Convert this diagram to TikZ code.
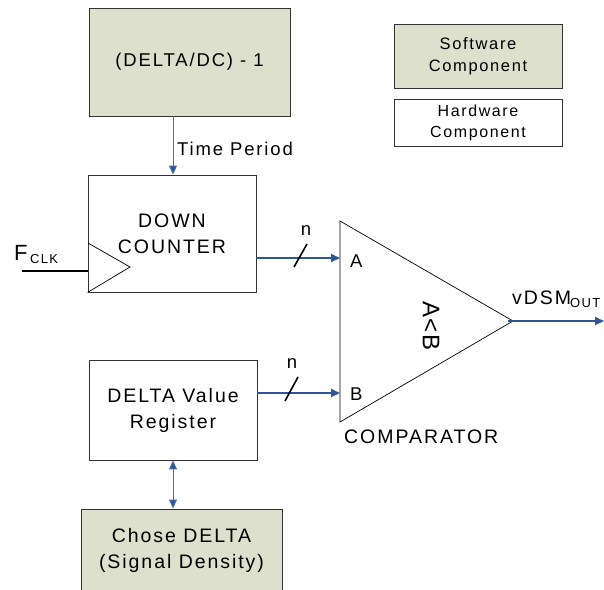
\documentclass[tikz,border=0pt]{standalone}
\usepackage{fontspec}
\setmainfont{Liberation Sans}[LetterSpace=10.0]
\usetikzlibrary{arrows.meta}
\definecolor{swfill}{HTML}{DDE0CC}
\definecolor{sigblue}{HTML}{2F5597}
\definecolor{thinblue}{HTML}{4A6FA8}
\definecolor{edge}{HTML}{333333}
\tikzset{
  swbox/.style={draw=edge, line width=0.8pt, fill=swfill, align=center, inner sep=0pt,
    font=\fontsize{19.5}{26}\selectfont},
  hwbox/.style={draw=edge, line width=0.8pt, fill=white, align=center, inner sep=0pt,
    font=\fontsize{19.5}{26}\selectfont},
  legsw/.style={swbox, font=\fontsize{16.5}{22}\selectfont},
  leghw/.style={hwbox, font=\fontsize{16}{21}\selectfont},
  lbl/.style={inner sep=0pt, font=\fontsize{18.5}{22}\selectfont},
  biglbl/.style={inner sep=0pt, font=\fontsize{19.5}{22}\selectfont},
  bus/.style={draw=sigblue, line width=2pt, -{Triangle[length=9pt,width=8pt]}},
  thinarrow/.style={draw=thinblue, line width=0.9pt, -{Triangle[length=9pt,width=8pt,fill=sigblue]}},
  dblarrow/.style={draw=thinblue, line width=0.9pt, {Triangle[length=9pt,width=8pt,fill=sigblue]}-{Triangle[length=9pt,width=8pt,fill=sigblue]}},
  slashmark/.style={draw=black, line width=1.6pt},
}
\begin{document}
\begin{tikzpicture}[x=1pt,y=-1pt]
\path[use as bounding box] (0,0) rectangle (604,589);
\clip (0,0) rectangle (604,589);
\fill[white] (0,0) rectangle (604,589);

% software / hardware boxes
\node[swbox, minimum width=201pt, minimum height=108pt, font=\fontsize{18.5}{26}\selectfont] (calc) at (189.5,62) {(DELTA/DC) - 1};
\node[hwbox, minimum width=168pt, minimum height=117pt] (dc) at (172,233.5) {DOWN\\COUNTER};
\node[hwbox, minimum width=168pt, minimum height=100pt] (reg) at (173,410) {DELTA Value\\Register};
\node[swbox, minimum width=201pt, minimum height=82pt] (chose) at (181.5,550) {Chose DELTA\\(Signal Density)};

% legend
\node[legsw, minimum width=168pt, minimum height=64pt] (lsw) at (478,56) {Software\\Component};
\node[leghw, minimum width=168pt, minimum height=47pt] (lhw) at (478,122.5) {Hardware\\Component};

% clock triangle
\coordinate (ck1) at (88,243);
\coordinate (ck2) at (130,267);
\draw[black, line width=0.7pt] (ck1) -- (ck2) -- (dc.south west);

% F_CLK
\coordinate (fclk) at (22,271);
\draw[black, line width=2.5pt] (fclk) -- (fclk -| dc.west);
\node[inner sep=0pt, anchor=base west] (fl) at (14,260) {\fontsize{22}{22}\selectfont F};
\node[inner sep=0pt, anchor=base west] (fsub) at (30,263) {\fontsize{13}{13}\selectfont CLK};

% comparator
\coordinate (ctop) at (340,221);
\coordinate (cbot) at (340,422);
\coordinate (cout) at (513,321);
\draw[black, line width=0.7pt] (ctop) -- (cout) -- (cbot) -- cycle;
\coordinate (cA) at (340,258);
\coordinate (cB) at (340,393);
\coordinate (outend) at (604,321);

\node[lbl, anchor=base west] (la) at (350,267) {A};
\node[lbl, anchor=base west] (lb) at (350,400) {B};
\node[inner sep=0pt, rotate=-90, font=\fontsize{24}{24}\selectfont] (lab) at (431,326) {A\kern1pt<\kern1pt B};
\node[biglbl, anchor=base west] (lcomp) at (344,443) {COMPARATOR};

% connectors
\draw[thinarrow] (calc.south -| 173,0) -- (dc.north -| 173,0);
\node[lbl, anchor=base west] (tp) at (177,155) {Time Period};

\draw[bus] (dc.east |- cA) -- (cA);
\draw[bus] (reg.east |- cB) -- (cB);
\draw[bus] (508,321) -- (outend);
\draw[dblarrow] (reg.south -| 173,0) -- (chose.north -| 173,0);

% bus width marks
\draw[slashmark] (294,267) -- (307,244);
\node[lbl, anchor=base] (n1) at (306,235) {n};
\draw[slashmark] (285,401) -- (298,377);
\node[lbl, anchor=base] (n2) at (292,368) {n};

% output label
\node[biglbl, anchor=base west] (vd) at (512,304) {vDSM};
\node[inner sep=0pt, anchor=base west] (vsub) at (570,307) {\fontsize{13}{13}\selectfont OUT};
\end{tikzpicture}
\end{document}
